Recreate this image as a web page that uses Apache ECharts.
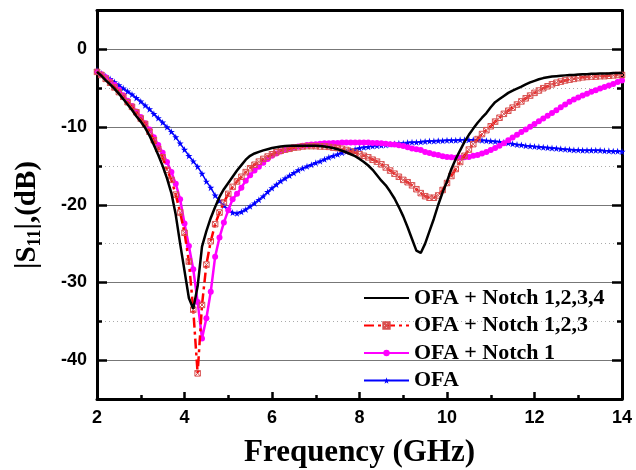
<!DOCTYPE html>
<html>
<head>
<meta charset="utf-8">
<script src="https://cdn.jsdelivr.net/npm/echarts@6/dist/echarts.min.js"></script>
<style>html,body{margin:0;padding:0;background:#fff;}#c{width:636px;height:470px;}</style>
</head>
<body>
<div id="c"></div>
<script>
const freq = [2.0,2.1,2.2,2.3,2.4,2.5,2.6,2.7,2.8,2.9,3.0,3.1,3.2,3.3,3.4,3.5,3.6,3.7,3.8,3.9,4.0,4.1,4.2,4.3,4.4,4.5,4.6,4.7,4.8,4.9,5.0,5.1,5.2,5.3,5.4,5.5,5.6,5.7,5.8,5.9,6.0,6.1,6.2,6.3,6.4,6.5,6.6,6.7,6.8,6.9,7.0,7.1,7.2,7.3,7.4,7.5,7.6,7.7,7.8,7.9,8.0,8.1,8.2,8.3,8.4,8.5,8.6,8.7,8.8,8.9,9.0,9.1,9.2,9.3,9.4,9.5,9.6,9.7,9.8,9.9,10.0,10.1,10.2,10.3,10.4,10.5,10.6,10.7,10.8,10.9,11.0,11.1,11.2,11.3,11.4,11.5,11.6,11.7,11.8,11.9,12.0,12.1,12.2,12.3,12.4,12.5,12.6,12.7,12.8,12.9,13.0,13.1,13.2,13.3,13.4,13.5,13.6,13.7,13.8,13.9,14.0];

const notch1234 = [-2.9,-3.4,-4.0,-4.5,-5.1,-5.7,-6.4,-7.1,-7.8,-8.6,
-9.3,-10.1,-11.1,-12.3,-13.6,-15.0,-16.6,-18.5,-21.3,-25.0,
-28.5,-32.0,-33.4,-30.5,-25.4,-23.4,-21.7,-20.3,-19.0,-18.0,
-17.2,-16.4,-15.6,-14.9,-14.2,-13.7,-13.4,-13.2,-13.0,-12.85,
-12.7,-12.6,-12.5,-12.45,-12.4,-12.4,-12.4,-12.4,-12.4,-12.4,
-12.4,-12.45,-12.5,-12.6,-12.7,-12.85,-13.05,-13.25,-13.5,-13.75,
-14.1,-14.5,-14.95,-15.5,-16.2,-16.9,-17.5,-18.3,-19.2,-20.3,
-21.5,-22.9,-24.4,-25.9,-26.2,-25.0,-23.4,-21.8,-20.0,-18.4,
-17.0,-15.4,-14.1,-13.0,-11.9,-11.0,-10.2,-9.45,-8.8,-8.2,
-7.45,-6.8,-6.4,-6.0,-5.6,-5.3,-5.05,-4.8,-4.5,-4.25,
-4.05,-3.85,-3.7,-3.6,-3.5,-3.45,-3.4,-3.35,-3.3,-3.3,
-3.25,-3.2,-3.2,-3.15,-3.15,-3.1,-3.1,-3.1,-3.05,-3.05,
-3.05];

const notch123 = [-2.9,-3.3,-3.8,-4.3,-4.9,-5.5,-6.1,-6.8,-7.4,-8.1,
-8.9,-9.6,-10.6,-11.7,-12.8,-13.9,-15.5,-16.8,-18.7,-21.0,
-23.6,-27.3,-33.5,-41.7,-32.9,-27.7,-24.7,-22.5,-21.0,-19.7,
-18.6,-17.7,-17.0,-16.4,-15.8,-15.3,-14.85,-14.45,-14.1,-13.8,
-13.5,-13.25,-13.05,-12.9,-12.8,-12.65,-12.6,-12.5,-12.45,-12.45,
-12.45,-12.5,-12.5,-12.55,-12.65,-12.7,-12.8,-12.95,-13.15,-13.3,
-13.5,-13.7,-13.9,-14.2,-14.45,-14.8,-15.2,-15.6,-16.0,-16.4,
-16.8,-17.1,-17.5,-18.0,-18.5,-18.9,-19.1,-19.1,-18.8,-18.1,
-17.2,-16.3,-15.4,-14.5,-13.7,-12.9,-12.2,-11.55,-10.9,-10.4,
-9.9,-9.3,-8.8,-8.3,-7.9,-7.5,-7.1,-6.7,-6.3,-5.95,
-5.6,-5.3,-5.0,-4.75,-4.5,-4.3,-4.15,-4.0,-3.9,-3.8,
-3.7,-3.6,-3.55,-3.5,-3.5,-3.45,-3.45,-3.4,-3.35,-3.3,
-3.3];

const notch1 = [-2.9,-3.2,-3.6,-4.1,-4.6,-5.2,-5.9,-6.6,-7.3,-8.0,
-8.7,-9.5,-10.3,-11.3,-12.3,-13.3,-14.5,-15.8,-17.3,-19.3,
-22.4,-25.3,-28.3,-32.5,-37.2,-34.6,-31.2,-26.7,-24.2,-22.3,
-20.7,-19.3,-18.6,-17.8,-16.9,-16.2,-15.6,-15.1,-14.6,-14.1,
-13.7,-13.4,-13.15,-12.95,-12.75,-12.6,-12.5,-12.4,-12.3,-12.25,
-12.2,-12.15,-12.1,-12.1,-12.05,-12.05,-12.0,-12.0,-12.0,-12.0,
-12.0,-12.0,-12.0,-12.05,-12.05,-12.1,-12.15,-12.2,-12.25,-12.35,
-12.45,-12.6,-12.75,-12.85,-12.95,-13.2,-13.35,-13.5,-13.6,-13.75,
-13.85,-13.9,-13.95,-13.95,-13.9,-13.85,-13.7,-13.6,-13.4,-13.2,
-12.95,-12.7,-12.4,-12.1,-11.7,-11.35,-11.0,-10.65,-10.3,-9.95,
-9.6,-9.25,-8.9,-8.55,-8.2,-7.85,-7.45,-7.1,-6.75,-6.45,
-6.2,-5.95,-5.7,-5.45,-5.25,-5.05,-4.85,-4.65,-4.45,-4.2,
-4.0];

const ofa = [-2.7,-3.1,-3.45,-3.8,-4.2,-4.6,-5.0,-5.4,-5.8,-6.25,
-6.7,-7.2,-7.7,-8.3,-8.85,-9.4,-10.0,-10.6,-11.3,-12.1,
-12.9,-13.7,-14.4,-15.1,-16.0,-17.0,-17.8,-18.8,-19.5,-20.1,
-20.6,-21.0,-21.1,-20.9,-20.6,-20.2,-19.8,-19.35,-18.9,-18.35,
-17.85,-17.4,-16.95,-16.6,-16.25,-15.9,-15.55,-15.3,-15.05,-14.85,
-14.6,-14.4,-14.15,-13.9,-13.7,-13.5,-13.3,-13.15,-13.0,-12.85,
-12.7,-12.6,-12.55,-12.45,-12.4,-12.35,-12.3,-12.2,-12.15,-12.1,
-12.1,-12.0,-11.95,-11.95,-11.9,-11.85,-11.8,-11.8,-11.75,-11.75,
-11.7,-11.7,-11.7,-11.65,-11.65,-11.65,-11.65,-11.65,-11.7,-11.75,
-11.8,-11.85,-11.9,-11.95,-12.05,-12.15,-12.25,-12.3,-12.4,-12.45,
-12.5,-12.55,-12.6,-12.65,-12.7,-12.75,-12.8,-12.85,-12.9,-12.95,
-12.95,-13.0,-13.0,-13.0,-13.0,-13.0,-13.05,-13.05,-13.1,-13.1,
-13.15];

const seriesNames = ['OFA + Notch 1,2,3,4', 'OFA + Notch 1,2,3', 'OFA + Notch 1', 'OFA'];
const xTicks = [2, 4, 6, 8, 10, 12, 14];
const yTicks = [-40, -30, -20, -10, 0];

function pairs(ys) { return freq.map((f, i) => [f, ys[i]]); }

const STAR = 'path://M50,0 L61,35 L98,35 L68,57 L79,91 L50,70 L21,91 L32,57 L2,35 L39,35 Z';
const XSQUARE = 'path://M0,0 L10,0 L10,10 L0,10 Z M0,0 L10,10 M10,0 L0,10';
const tickFont = { fontFamily: 'Liberation Sans, Arial', fontWeight: 'bold', fontSize: 18, color: '#000' };

const chart = echarts.init(document.getElementById('c'), null, { renderer: 'canvas' });
chart.setOption({
  animation: false,
  backgroundColor: '#fff',
  grid: { left: 97, right: 14, top: 10.5, bottom: 71, containLabel: false },
  xAxis: [
    {
      type: 'value', min: xTicks[0], max: xTicks[xTicks.length - 1], interval: 2, position: 'bottom',
      axisLine: { show: true, onZero: false, lineStyle: { color: '#000', width: 3 } },
      axisTick: { show: true, inside: true, length: 7, lineStyle: { color: '#000', width: 2.5 } },
      minorTick: { show: true, splitNumber: 2, length: 4, lineStyle: { color: '#000', width: 2.5 } },
      axisLabel: Object.assign({ margin: 10, formatter: v => xTicks.includes(v) ? String(v) : '' }, tickFont),
      splitLine: { show: false }
    },
    {
      type: 'value', min: 2, max: 14, interval: 2, position: 'top',
      axisLine: { show: true, onZero: false, lineStyle: { color: '#000', width: 3 } },
      axisTick: { show: false }, axisLabel: { show: false }, splitLine: { show: false }
    }
  ],
  yAxis: [
    {
      type: 'value', min: -45, max: 5, interval: 5, position: 'left',
      axisLine: { show: true, onZero: false, lineStyle: { color: '#000', width: 3 } },
      axisTick: { show: false },
      axisLabel: Object.assign({ margin: 10, formatter: v => yTicks.includes(v) ? String(v) : '' }, tickFont),
      splitLine: { show: false }
    },
    {
      type: 'value', min: -45, max: 5, interval: 10, position: 'left',
      axisLine: { show: false },
      axisTick: { show: true, inside: true, length: 5, lineStyle: { color: '#000', width: 2.5 } },
      minorTick: { show: true, splitNumber: 2, length: 10, lineStyle: { color: '#000', width: 2.5 } },
      axisLabel: { show: false },
      splitLine: { show: true, lineStyle: { color: '#aaa', width: 1, type: [1, 3] } },
      minorSplitLine: { show: true, lineStyle: { color: '#777', width: 1.2, type: 'solid' } }
    },
    {
      type: 'value', min: -45, max: 5, interval: 10, position: 'right',
      axisLine: { show: true, onZero: false, lineStyle: { color: '#000', width: 3 } },
      axisTick: { show: true, inside: true, length: 5, lineStyle: { color: '#000', width: 2.5 } },
      minorTick: { show: true, splitNumber: 2, length: 10, lineStyle: { color: '#000', width: 2.5 } },
      axisLabel: { show: false },
      splitLine: { show: false }
    }
  ],
  legend: {
    orient: 'vertical', left: 363, top: 287, padding: 0,
    itemWidth: 45, itemHeight: 8, itemGap: 5.5,
    data: [
      { name: seriesNames[0], itemStyle: { opacity: 0 } },
      { name: seriesNames[1] },
      { name: seriesNames[2] },
      { name: seriesNames[3] }
    ],
    textStyle: { fontFamily: 'Liberation Serif, Times New Roman', fontWeight: 'bold', fontSize: 22, color: '#000', lineHeight: 22 }
  },
  graphic: [
    {
      type: 'text', x: 359.5, y: 453,
      style: { text: 'Frequency (GHz)', font: 'bold 31px "Liberation Serif"', fill: '#000', align: 'center', verticalAlign: 'middle' }
    },
    {
      type: 'text', x: 28, y: 215, rotation: Math.PI / 2,
      style: {
        text: '{a||S}{b|11}{a||,(dB)}', align: 'center', verticalAlign: 'middle', fill: '#000',
        rich: {
          a: { fontFamily: 'Liberation Serif', fontWeight: 'bold', fontSize: 29, lineHeight: 32, fill: '#000' },
          b: { fontFamily: 'Liberation Serif', fontWeight: 'bold', fontSize: 18, lineHeight: 18, verticalAlign: 'bottom', fill: '#000' }
        }
      }
    }
  ],
  series: [
    {
      name: seriesNames[0], type: 'line', data: pairs(notch1234), xAxisIndex: 0, yAxisIndex: 0,
      showSymbol: false, symbol: 'none', color: '#000',
      lineStyle: { color: '#000', width: 2.5 }, z: 5
    },
    {
      name: seriesNames[1], type: 'line', data: pairs(notch123), xAxisIndex: 0, yAxisIndex: 0,
      showSymbol: true, showAllSymbol: true,
      symbol: XSQUARE, symbolSize: 5.5, color: '#d85050',
      itemStyle: { color: 'rgba(255,255,255,0)', borderColor: '#d85050', borderWidth: 1 },
      lineStyle: { color: '#ff0000', width: 2.5, type: [10, 4, 3, 4] }, z: 4
    },
    {
      name: seriesNames[2], type: 'line', data: pairs(notch1), xAxisIndex: 0, yAxisIndex: 0,
      showSymbol: true, showAllSymbol: true,
      symbol: 'circle', symbolSize: 6, color: '#ff00ff',
      itemStyle: { color: '#ff00ff' },
      lineStyle: { color: '#ff00ff', width: 2.5 }, z: 3
    },
    {
      name: seriesNames[3], type: 'line', data: pairs(ofa), xAxisIndex: 0, yAxisIndex: 0,
      showSymbol: true, showAllSymbol: true,
      symbol: STAR, symbolSize: 7, color: '#0000ff',
      itemStyle: { color: '#0000ff' },
      lineStyle: { color: '#0000ff', width: 1.5 }, z: 2
    }
  ]
});
</script>
</body>
</html>
